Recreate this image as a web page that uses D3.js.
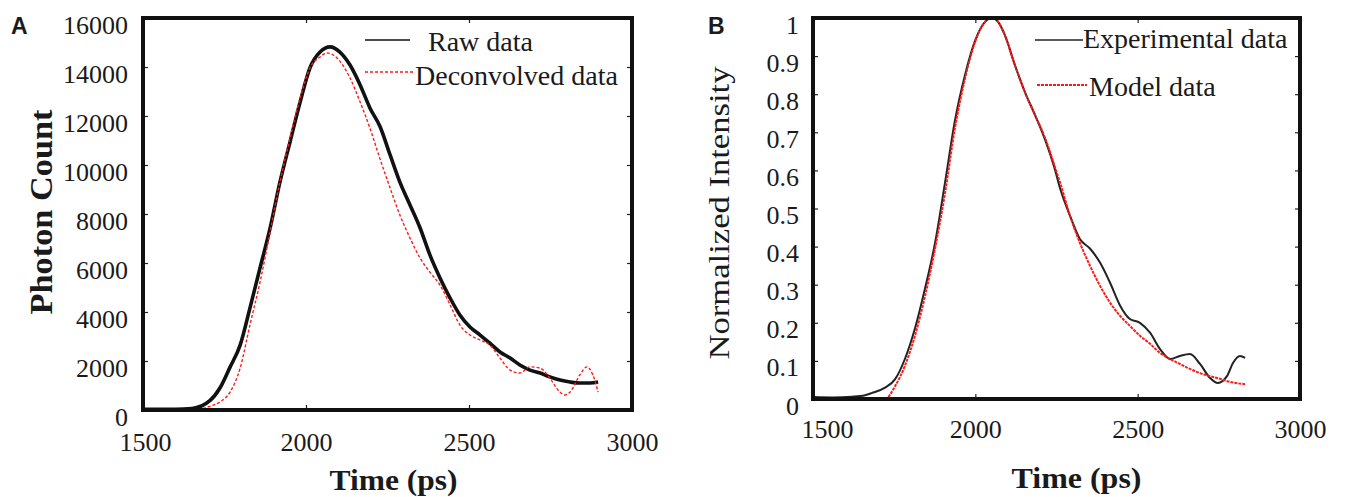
<!DOCTYPE html>
<html lang="en">
<head>
  <meta charset="UTF-8" />
  <title>Photon Count / Normalized Intensity vs Time</title>
  <script src="https://d3js.org/d3.v7.min.js"></script>
  <style>
    body {
      margin: 0;
      background: #fff;
    }
    text {
      font-family: "Liberation Serif", "Times New Roman", serif;
      fill: #1a1a1a;
    }
  </style>
</head>
<body>
<svg width="1345" height="497"></svg>

<script>
  // Panel A: time (ps) and photon count
  const rawTime = [1500, 1600, 1650, 1705, 1736, 1767, 1798, 1828, 1859, 1890, 1920, 1951, 1982, 2012, 2043, 2074, 2104,
    2135, 2166, 2196, 2227, 2258, 2288, 2319, 2350, 2380, 2411, 2442, 2472, 2503, 2534, 2564, 2595, 2626, 2656,
    2687, 2718, 2748, 2779, 2810, 2840, 2871, 2896];
  const rawCount = [30, 30, 60, 380, 900, 1750, 2650, 4160, 5800, 7430, 9300, 10940, 12570, 13960, 14610, 14820, 14610,
    14080, 13270, 12330, 11570, 10410, 9300, 8370, 7430, 6330, 5390, 4570, 3880, 3390, 3060, 2730, 2370, 2120, 1840,
    1630, 1510, 1350, 1220, 1140, 1100, 1100, 1140];

  const deconvTime = [1500, 1640, 1705, 1736, 1767, 1798, 1828, 1859, 1890, 1920, 1951, 1982, 2012, 2043, 2064, 2095,
    2135, 2166, 2196, 2227, 2258, 2288, 2319, 2350, 2380, 2411, 2442, 2472, 2503, 2534, 2564, 2595, 2626, 2656,
    2687, 2718, 2748, 2779, 2794, 2810, 2840, 2862, 2880, 2896];
  const deconvCount = [0, 0, 150, 330, 730, 1710, 3470, 5220, 7270, 9300, 11100, 12730, 13960, 14410, 14570, 14370,
    13550, 12570, 11510, 10250, 9060, 7960, 7020, 6200, 5630, 5100, 4290, 3470, 3060, 2860, 2650, 2120, 1630, 1510,
    1760, 1710, 1300, 730, 610, 730, 1430, 1760, 1430, 730];

  // Panel B: normalized intensity
  const expTime = [1500, 1560, 1620, 1660, 1682, 1722, 1753, 1783, 1814, 1845, 1876, 1907, 1937, 1968, 1999, 2030,
    2051, 2070, 2091, 2122, 2153, 2184, 2215, 2246, 2261, 2292, 2322, 2353, 2384, 2415, 2446, 2476, 2507, 2538,
    2569, 2600, 2630, 2661, 2692, 2723, 2747, 2775, 2794, 2815, 2831];
  const expIntensity = [0.005, 0.004, 0.006, 0.01, 0.016, 0.03, 0.052, 0.105, 0.185, 0.29, 0.41, 0.57, 0.73, 0.85,
    0.94, 0.99, 1.0, 0.99, 0.955, 0.876, 0.805, 0.745, 0.68, 0.6, 0.553, 0.48, 0.42, 0.395, 0.358, 0.305, 0.245,
    0.21, 0.2, 0.174, 0.131, 0.105, 0.113, 0.118, 0.092, 0.055, 0.042, 0.06, 0.095, 0.113, 0.108];

  const modelTime = [1500, 1722, 1753, 1783, 1814, 1845, 1876, 1907, 1937, 1968, 1999, 2030, 2051, 2070, 2091, 2122,
    2153, 2184, 2215, 2246, 2261, 2292, 2322, 2353, 2384, 2415, 2446, 2476, 2507, 2538, 2569, 2600, 2630, 2661,
    2692, 2723, 2753, 2784, 2831];
  const modelIntensity = [0, 0, 0.034, 0.087, 0.166, 0.27, 0.395, 0.542, 0.71, 0.84, 0.937, 0.99, 1.0, 0.99, 0.955,
    0.876, 0.805, 0.745, 0.685, 0.607, 0.568, 0.48, 0.41, 0.35, 0.297, 0.253, 0.218, 0.192, 0.166, 0.145, 0.121,
    0.105, 0.092, 0.079, 0.068, 0.06, 0.053, 0.045, 0.039];

  const xTicks = [1500, 2000, 2500, 3000];
  const yTicksA = [0, 2000, 4000, 6000, 8000, 10000, 12000, 14000, 16000];
  const yTicksB = [0, 0.1, 0.2, 0.3, 0.4, 0.5, 0.6, 0.7, 0.8, 0.9, 1];

  const SERIF = "Liberation Serif, Times New Roman, serif";
  const svg = d3.select("svg");

  const zip = (xs, ys) => xs.map((x, i) => ({x, y: ys[i]}));

  function styleAxis(a) {
    a.attr("font-family", SERIF).attr("font-size", 26);
    a.select(".domain").remove();
    a.selectAll(".tick line").attr("stroke", "#222").attr("stroke-width", 1.2);
    a.selectAll(".tick text").attr("fill", "#1a1a1a")
      .style("font-family", SERIF).style("font-size", "26px");
  }

  function drawPanel(p) {
    const x = d3.scaleLinear().domain([1500, 3000]).range([p.left, p.right]);
    const y = d3.scaleLinear().domain(p.yDomain).range([p.bottom, p.top]);
    const g = svg.append("g");

    // inward ticks on all four sides
    g.append("g")
      .attr("transform", `translate(0,${p.bottom})`)
      .call(d3.axisBottom(x).tickValues(xTicks).tickFormat(d3.format("d"))
        .tickSizeInner(-5).tickSizeOuter(0).tickPadding(p.xPad))
      .call(styleAxis)
      .call(a => a.selectAll(".tick text").attr("dy", "0.71em")
        .attr("dx", d => d === 1500 ? p.firstXdx : 0));

    g.append("g")
      .attr("transform", `translate(0,${p.top})`)
      .call(d3.axisTop(x).tickValues(xTicks).tickFormat("").tickSizeInner(-5).tickSizeOuter(0))
      .call(styleAxis);

    g.append("g")
      .attr("transform", `translate(${p.left},0)`)
      .call(d3.axisLeft(y).tickValues(p.yTicks).tickFormat(p.yFormat)
        .tickSizeInner(-5).tickSizeOuter(0).tickPadding(p.yPad))
      .call(styleAxis)
      .call(a => a.selectAll(".tick text").attr("dy", "0.58em"));

    g.append("g")
      .attr("transform", `translate(${p.right},0)`)
      .call(d3.axisRight(y).tickValues(p.yTicks).tickFormat("").tickSizeInner(-5).tickSizeOuter(0))
      .call(styleAxis);

    const line = d3.line()
      .x(d => x(d.x))
      .y(d => y(d.y))
      .curve(d3.curveMonotoneX);

    p.series.forEach(s => {
      g.append("path")
        .datum(zip(s.xs, s.ys))
        .attr("fill", "none")
        .attr("stroke", s.color)
        .attr("stroke-width", s.width)
        .attr("stroke-dasharray", s.dash || null)
        .attr("stroke-linejoin", "round")
        .attr("d", line);
    });

    // frame
    g.append("rect")
      .attr("x", p.left).attr("y", p.top)
      .attr("width", p.right - p.left).attr("height", p.bottom - p.top)
      .attr("fill", "none").attr("stroke", "#111").attr("stroke-width", 4);

    // legend
    p.legend.forEach(l => {
      g.append("line")
        .attr("x1", l.x1).attr("x2", l.x2).attr("y1", l.ly).attr("y2", l.ly)
        .attr("stroke", l.color).attr("stroke-width", l.width)
        .attr("stroke-dasharray", l.dash || null);
      g.append("text")
        .style("font-family", SERIF).style("font-size", "28px")
        .attr("x", l.tx).attr("y", l.ty).text(l.label);
    });

    // axis titles
    g.append("text")
      .style("font-family", SERIF).style("font-size", "30px").style("font-weight", "bold")
      .attr("x", (p.left + p.right) / 2 + p.xTitleDx).attr("y", p.xTitleY)
      .attr("text-anchor", "middle")
      .attr("textLength", p.xTitleLen).attr("lengthAdjust", "spacingAndGlyphs")
      .text("Time (ps)");

    g.append("text")
      .attr("transform", `translate(${p.yTitleX},${p.yTitleY}) rotate(-90)`)
      .attr("text-anchor", "middle")
      .style("font-family", SERIF)
      .style("font-weight", p.yTitleWeight)
      .style("font-size", p.yTitleSize + "px")
      .attr("textLength", p.yTitleLen).attr("lengthAdjust", "spacingAndGlyphs")
      .text(p.yTitle);

    g.append("text")
      .style("font-family", "Liberation Sans, Arial, sans-serif")
      .style("font-size", "23px").style("font-weight", "bold")
      .attr("x", p.labelX).attr("y", 34).text(p.label);
  }

  drawPanel({
    label: "A", labelX: 11,
    left: 143, right: 632, top: 18, bottom: 410,
    yDomain: [0, 16000], yTicks: yTicksA, yFormat: d3.format("d"),
    xPad: 23, yPad: 15, firstXdx: 2,
    xTitleDx: 6, xTitleY: 490, xTitleLen: 128,
    yTitle: "Photon Count", yTitleX: 52, yTitleY: 212, yTitleLen: 205, yTitleSize: 32, yTitleWeight: "bold",
    series: [
      {xs: rawTime, ys: rawCount, color: "#111", width: 3.6},
      {xs: deconvTime, ys: deconvCount, color: "#ff1a1a", width: 1.4, dash: "3,2"}
    ],
    legend: [
      {x1: 365, x2: 410, ly: 40, color: "#111", width: 1.5, tx: 428, ty: 51, label: "Raw data"},
      {x1: 365, x2: 413, ly: 72, color: "#ff1a1a", width: 1.4, dash: "3,2", tx: 415, ty: 85, label: "Deconvolved data"}
    ]
  });

  drawPanel({
    label: "B", labelX: 708,
    left: 813, right: 1300, top: 18, bottom: 399,
    yDomain: [0, 1], yTicks: yTicksB, yFormat: d => d === 0 || d === 1 ? d3.format("d")(d) : d3.format(".1f")(d),
    xPad: 21, yPad: 14, firstXdx: 14,
    xTitleDx: 20, xTitleY: 488, xTitleLen: 130,
    yTitle: "Normalized Intensity", yTitleX: 729, yTitleY: 213, yTitleLen: 293, yTitleSize: 30, yTitleWeight: "normal",
    series: [
      {xs: expTime, ys: expIntensity, color: "#222", width: 2},
      {xs: modelTime, ys: modelIntensity, color: "#ff1a1a", width: 2, dash: "3,1"}
    ],
    legend: [
      {x1: 1035, x2: 1083, ly: 40, color: "#222", width: 1.5, tx: 1083, ty: 48, label: "Experimental data"},
      {x1: 1037, x2: 1087, ly: 85, color: "#ff1a1a", width: 2, dash: "3,1", tx: 1089, ty: 96, label: "Model data"}
    ]
  });
</script>

</body>
</html>
